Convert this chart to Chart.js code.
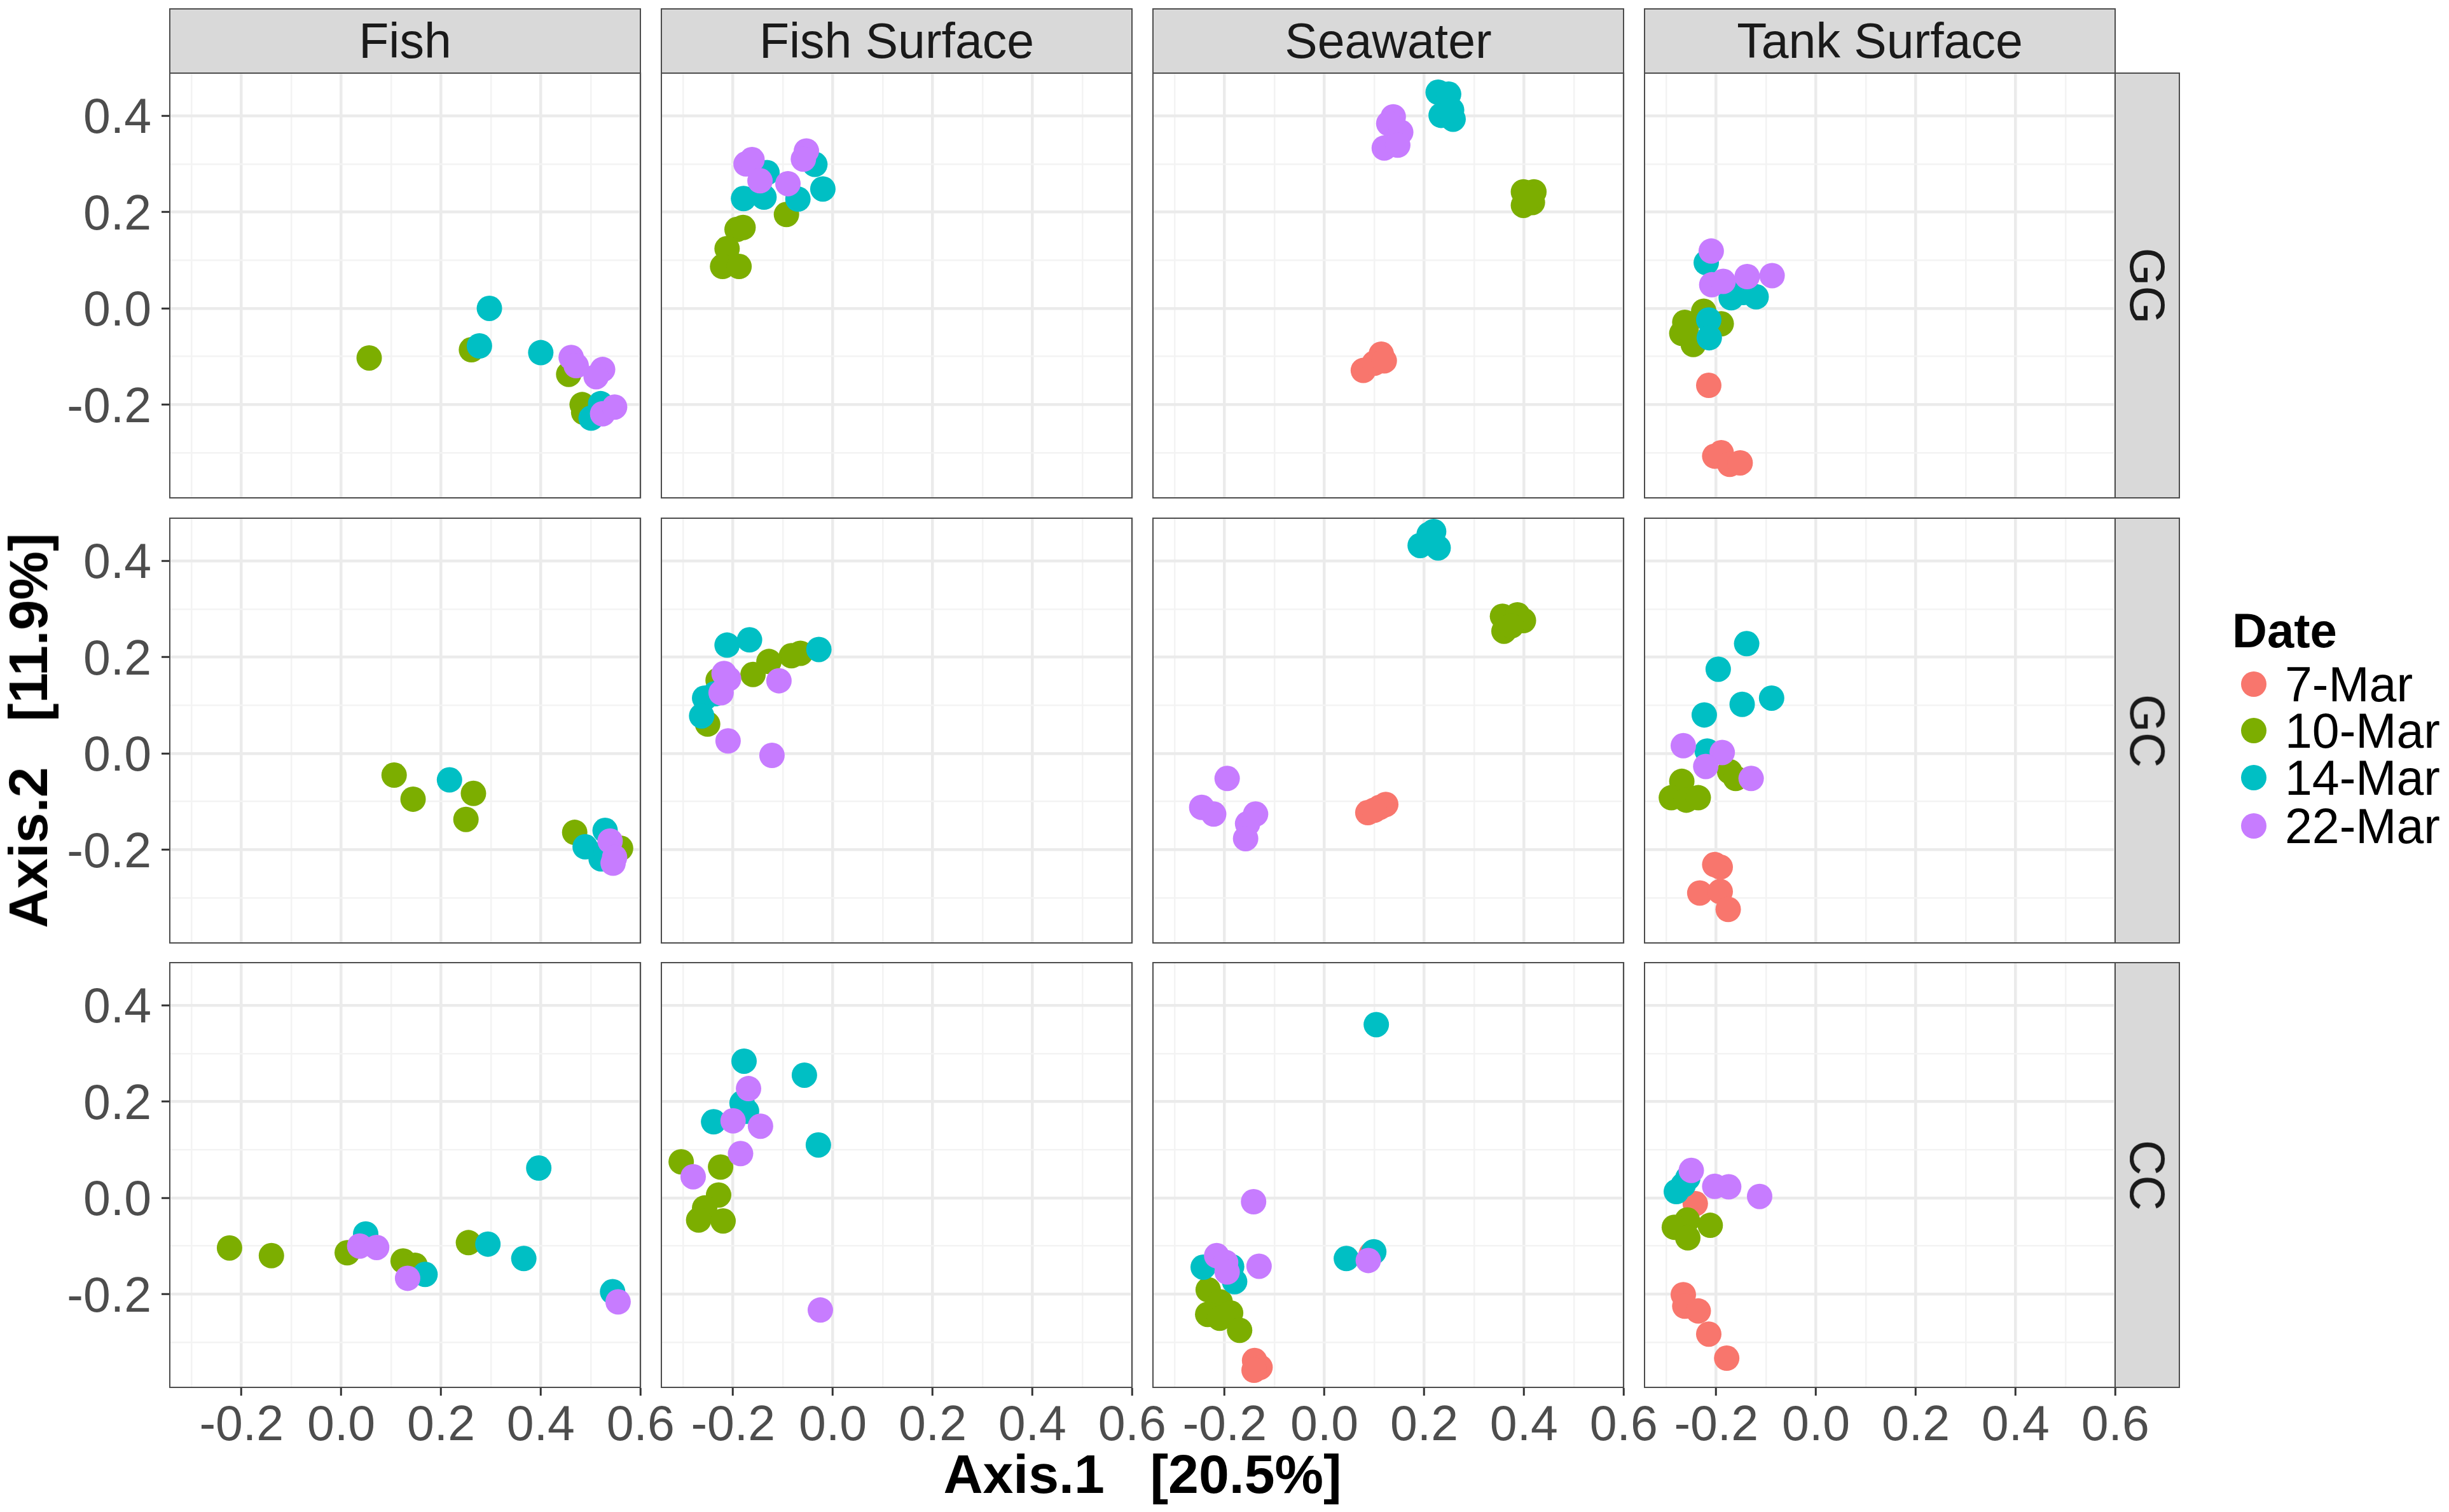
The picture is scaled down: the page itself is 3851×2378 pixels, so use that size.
<!DOCTYPE html>
<html><head><meta charset="utf-8">
<script src="https://cdn.jsdelivr.net/npm/chart.js@4.4.1/dist/chart.umd.min.js"></script>
<style>
html,body{margin:0;padding:0;background:#fff;}
#wrap{position:relative;width:3851px;height:2378px;overflow:hidden;font-family:'Liberation Sans',Arial,Helvetica,sans-serif;background:#fff;}
canvas{position:absolute;}
.strip{position:absolute;background:#D9D9D9;border:2px solid #4D4D4D;box-sizing:border-box;display:flex;align-items:center;justify-content:center;font-size:77px;color:#1A1A1A;}
.strip span{display:block;white-space:nowrap;}
.rot span{transform:rotate(90deg);}
.title{position:absolute;font-weight:bold;font-size:86px;color:#000;white-space:pre;line-height:1;}
.leg{position:absolute;font-size:77px;color:#000;white-space:nowrap;line-height:1;}
.dot{position:absolute;width:40px;height:40px;border-radius:50%;}
</style></head><body><div id="wrap"></div>
<script>
const dates = ['7-Mar','10-Mar','14-Mar','22-Mar'];
const dateColors = ['#F8766D','#7CAE00','#00BFC4','#C77CFF'];
const sources = ['Fish','Fish Surface','Seawater','Tank Surface'];
const hosts = ['GG','GC','CC'];
const xTicks = [-0.3,-0.2,-0.1,0.0,0.1,0.2,0.3,0.4,0.5,0.6];
const yTicks = [-0.3,-0.2,-0.1,0.0,0.1,0.2,0.3,0.4];
const xTitle = 'Axis.1   [20.5%]';
const yTitle = 'Axis.2   [11.9%]';
const legendTitle = 'Date';

// each panel: [7-Mar, 10-Mar, 14-Mar, 22-Mar], points as [Axis.1, Axis.2]
const GG_Fish = [
  [],
  [[0.056,-0.103],[0.261,-0.086],[0.456,-0.137],[0.483,-0.200],[0.486,-0.216]],
  [[0.297,0.000],[0.277,-0.078],[0.400,-0.092],[0.501,-0.228],[0.520,-0.198]],
  [[0.461,-0.102],[0.471,-0.119],[0.524,-0.127],[0.511,-0.142],[0.524,-0.219],[0.548,-0.205]]
];
const GG_FishSurface = [
  [],
  [[-0.093,0.195],[-0.192,0.164],[-0.180,0.168],[-0.212,0.124],[-0.221,0.087],[-0.188,0.087]],
  [[-0.132,0.282],[-0.179,0.228],[-0.138,0.231],[-0.070,0.227],[-0.036,0.299],[-0.020,0.248]],
  [[-0.174,0.300],[-0.162,0.309],[-0.146,0.265],[-0.090,0.259],[-0.053,0.327],[-0.059,0.310]]
];
const GG_Seawater = [
  [[0.078,-0.129],[0.100,-0.114],[0.114,-0.095],[0.120,-0.109]],
  [[0.399,0.242],[0.420,0.242],[0.399,0.214],[0.417,0.220],[0.410,0.230]],
  [[0.228,0.449],[0.249,0.445],[0.234,0.401],[0.258,0.393],[0.255,0.412]],
  [[0.138,0.398],[0.129,0.384],[0.153,0.366],[0.120,0.333],[0.147,0.339]]
];
const GG_TankSurface = [
  [[-0.215,-0.160],[-0.203,-0.307],[-0.190,-0.300],[-0.173,-0.324],[-0.152,-0.321]],
  [[-0.225,-0.006],[-0.190,-0.032],[-0.263,-0.029],[-0.269,-0.052],[-0.246,-0.075],[-0.260,-0.040]],
  [[-0.220,0.095],[-0.170,0.022],[-0.146,0.033],[-0.120,0.024],[-0.215,-0.024],[-0.214,-0.061]],
  [[-0.210,0.119],[-0.209,0.049],[-0.186,0.056],[-0.138,0.066],[-0.088,0.068]]
];
const GC_Fish = [
  [],
  [[0.106,-0.045],[0.144,-0.095],[0.265,-0.083],[0.250,-0.137],[0.468,-0.164],[0.560,-0.197]],
  [[0.217,-0.055],[0.529,-0.160],[0.489,-0.194],[0.521,-0.219],[0.531,-0.204]],
  [[0.539,-0.182],[0.548,-0.216],[0.545,-0.228]]
];
const GC_FishSurface = [
  [],
  [[-0.065,0.208],[-0.083,0.203],[-0.128,0.191],[-0.160,0.164],[-0.230,0.152],[-0.251,0.061]],
  [[-0.212,0.225],[-0.167,0.236],[-0.028,0.216],[-0.257,0.115],[-0.236,0.124],[-0.263,0.078]],
  [[-0.108,0.151],[-0.218,0.166],[-0.209,0.155],[-0.224,0.126],[-0.210,0.026],[-0.122,-0.004]]
];
const GC_Seawater = [
  [[0.087,-0.123],[0.111,-0.112],[0.123,-0.106],[0.100,-0.118]],
  [[0.357,0.285],[0.387,0.288],[0.399,0.276],[0.360,0.254],[0.375,0.265]],
  [[0.210,0.455],[0.192,0.432],[0.228,0.427],[0.219,0.461]],
  [[-0.195,-0.052],[-0.246,-0.112],[-0.222,-0.126],[-0.138,-0.126],[-0.154,-0.146],[-0.158,-0.177]]
];
const GC_TankSurface = [
  [[-0.203,-0.231],[-0.192,-0.236],[-0.233,-0.290],[-0.192,-0.287],[-0.176,-0.324]],
  [[-0.173,-0.038],[-0.161,-0.052],[-0.269,-0.058],[-0.290,-0.092],[-0.260,-0.097],[-0.236,-0.092]],
  [[-0.139,0.228],[-0.196,0.175],[-0.089,0.115],[-0.148,0.102],[-0.224,0.080],[-0.218,0.005]],
  [[-0.266,0.016],[-0.188,0.002],[-0.221,-0.027],[-0.130,-0.052]]
];
const CC_Fish = [
  [],
  [[-0.224,-0.104],[-0.140,-0.120],[0.012,-0.114],[0.124,-0.131],[0.148,-0.140],[0.255,-0.093]],
  [[0.049,-0.075],[0.168,-0.159],[0.294,-0.096],[0.366,-0.126],[0.396,0.062],[0.544,-0.195]],
  [[0.037,-0.100],[0.071,-0.103],[0.133,-0.167],[0.555,-0.216]]
];
const CC_FishSurface = [
  [],
  [[-0.304,0.075],[-0.225,0.064],[-0.229,0.006],[-0.257,-0.021],[-0.269,-0.046],[-0.220,-0.048]],
  [[-0.178,0.284],[-0.057,0.255],[-0.182,0.197],[-0.173,0.180],[-0.239,0.158],[-0.029,0.110]],
  [[-0.169,0.227],[-0.200,0.160],[-0.145,0.149],[-0.185,0.092],[-0.280,0.044],[-0.025,-0.233]]
];
const CC_Seawater = [
  [[-0.140,-0.338],[-0.129,-0.352],[-0.141,-0.358],[0.094,-0.117]],
  [[-0.233,-0.191],[-0.209,-0.216],[-0.234,-0.242],[-0.210,-0.250],[-0.188,-0.239],[-0.170,-0.275]],
  [[0.104,0.360],[-0.243,-0.144],[-0.186,-0.143],[-0.180,-0.174],[0.044,-0.126],[0.099,-0.112]],
  [[-0.142,-0.008],[-0.216,-0.120],[-0.198,-0.134],[-0.195,-0.154],[-0.131,-0.142],[0.088,-0.130]]
];
const CC_TankSurface = [
  [[-0.242,-0.012],[-0.266,-0.201],[-0.263,-0.225],[-0.236,-0.235],[-0.215,-0.283],[-0.179,-0.333]],
  [[-0.258,-0.046],[-0.284,-0.061],[-0.212,-0.057],[-0.257,-0.083]],
  [[-0.257,0.041],[-0.280,0.013],[-0.266,0.027]],
  [[-0.250,0.057],[-0.203,0.024],[-0.175,0.023],[-0.113,0.003]]
];

const panelData = [
  [GG_Fish, GG_FishSurface, GG_Seawater, GG_TankSurface],
  [GC_Fish, GC_FishSurface, GC_Seawater, GC_TankSurface],
  [CC_Fish, CC_FishSurface, CC_Seawater, CC_TankSurface]
];

// layout (pixels)
const PL = [266, 1039, 1812, 2585];
const PT = [114, 814, 1513];
const W = 742, H = 670, P = 250, STRIP = 103;

Chart.defaults.font.family = "'Liberation Sans', Arial, Helvetica, sans-serif";
const wrap = document.getElementById('wrap');
const isMajor = v => Math.round(Math.abs(v) * 10) % 2 === 0;

const borderPlugin = {
  id: 'panelBorder',
  afterDraw(chart) {
    const a = chart.chartArea, ctx = chart.ctx;
    ctx.save();
    ctx.strokeStyle = '#4D4D4D';
    ctx.lineWidth = 2;
    ctx.strokeRect(a.left + 1, a.top + 1, a.right - a.left - 2, a.bottom - a.top - 2);
    ctx.restore();
  }
};

function gridOpts(show) {
  return {
    color: c => (c.tick && isMajor(c.tick.value)) ? '#EBEBEB' : '#F3F3F3',
    lineWidth: c => (c.tick && isMajor(c.tick.value)) ? 4.5 : 2.5,
    drawTicks: show,
    tickLength: 12,
    tickWidth: 3,
    tickColor: c => (c.tick && isMajor(c.tick.value)) ? '#333333' : 'rgba(0,0,0,0)'
  };
}

function makeChart(r, c) {
  const cv = document.createElement('canvas');
  cv.width = W + 2 * P; cv.height = H + 2 * P;
  cv.style.left = (PL[c] - P) + 'px';
  cv.style.top = (PT[r] - P) + 'px';
  cv.style.width = cv.width + 'px';
  cv.style.height = cv.height + 'px';
  wrap.appendChild(cv);
  const d = panelData[r][c];
  const showX = r === hosts.length - 1, showY = c === 0;
  const xAxisH = showX ? P : 0, yAxisW = showY ? P : 0;
  new Chart(cv, {
    type: 'scatter',
    data: {
      datasets: dates.map((lab, i) => ({
        label: lab,
        data: d[i].map(p => ({ x: p[0], y: p[1] })),
        backgroundColor: dateColors[i],
        borderColor: dateColors[i],
        borderWidth: 0,
        pointRadius: 20,
        pointHoverRadius: 20,
        order: dates.length - i
      }))
    },
    options: {
      responsive: false, animation: false, events: [],
      layout: { padding: { left: P - yAxisW, right: P, top: P, bottom: P - xAxisH } },
      plugins: { legend: { display: false }, tooltip: { enabled: false } },
      scales: {
        x: {
          type: 'linear', min: -0.345, max: 0.601,
          afterFit: s => { s.height = xAxisH; },
          afterBuildTicks: s => { s.ticks = xTicks.map(v => ({ value: v })); },
          grid: gridOpts(showX),
          border: { display: false },
          ticks: { display: showX, autoSkip: false, maxRotation: 0, minRotation: 0, padding: 3,
                   color: '#4D4D4D', font: { size: 77 },
                   callback: v => isMajor(v) ? v.toFixed(1) : '' }
        },
        y: {
          type: 'linear', min: -0.395, max: 0.49,
          afterFit: s => { s.width = yAxisW; },
          afterBuildTicks: s => { s.ticks = yTicks.map(v => ({ value: v })); },
          grid: gridOpts(showY),
          border: { display: false },
          ticks: { display: showY, autoSkip: false, padding: 16, labelOffset: 6,
                   color: '#4D4D4D', font: { size: 77 },
                   callback: v => isMajor(v) ? v.toFixed(1) : '' }
        }
      }
    },
    plugins: [borderPlugin]
  });
}

for (let r = 0; r < hosts.length; r++) for (let c = 0; c < sources.length; c++) makeChart(r, c);

function el(cls, css) {
  const e = document.createElement('div');
  e.className = cls;
  Object.assign(e.style, css);
  wrap.appendChild(e);
  return e;
}
// column strips
sources.forEach((s, c) => {
  const e = el('strip', { left: PL[c] + 'px', top: (PT[0] - STRIP + 2) + 'px', width: W + 'px', height: STRIP + 'px' });
  const sp = document.createElement('span'); sp.textContent = s; e.appendChild(sp);
});
// row strips
hosts.forEach((h, r) => {
  const e = el('strip rot', { left: (PL[3] + W - 2) + 'px', top: PT[r] + 'px', width: STRIP + 'px', height: H + 'px' });
  const sp = document.createElement('span'); sp.textContent = h; e.appendChild(sp);
});
// axis titles
const xt = el('title', { left: ((PL[0] + PL[3] + W) / 2) + 'px', top: '2318px', transform: 'translate(-50%,-50%)' });
xt.textContent = xTitle;
const yt = el('title', { left: '44px', top: ((PT[0] + PT[2] + H) / 2) + 'px', transform: 'translate(-50%,-50%) rotate(-90deg)' });
yt.textContent = yTitle;
// legend
const lt = el('leg', { left: '3510px', top: '992px', transform: 'translateY(-50%)', fontWeight: 'bold', fontSize: '76px' });
lt.textContent = legendTitle;
const legY = [1076, 1149, 1223, 1299];
dates.forEach((d, i) => {
  el('dot', { left: (3544 - 20) + 'px', top: (legY[i] - 20) + 'px', background: dateColors[i] });
  const t = el('leg', { left: '3593px', top: legY[i] + 'px', transform: 'translateY(-50%)' });
  t.textContent = d;
});
</script>
</body></html>
